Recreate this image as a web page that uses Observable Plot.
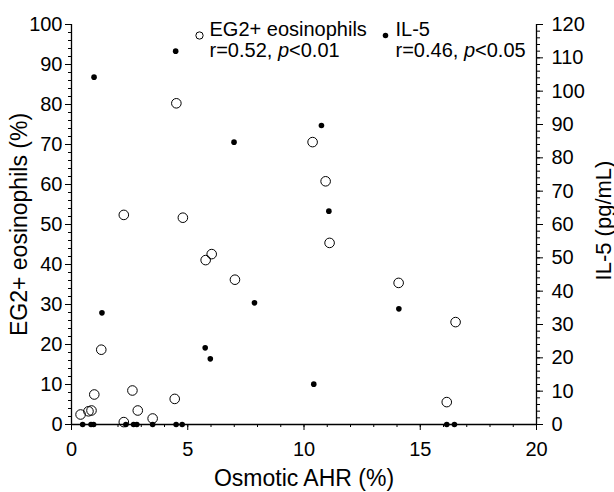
<!DOCTYPE html>
<html>
<head>
<meta charset="utf-8">
<script src="https://cdn.jsdelivr.net/npm/d3@7"></script>
<script src="https://cdn.jsdelivr.net/npm/@observablehq/plot@0.6"></script>
<style>
  html, body { margin: 0; padding: 0; background: #fff; }
</style>
</head>
<body>
<div id="chart"></div>
<script>
// EG2+ eosinophils (%) vs Osmotic AHR (%)
const egX = [0.39, 0.73, 0.86, 0.98, 1.28, 2.25, 2.25, 2.62, 2.85, 3.49, 4.44, 4.51, 4.79, 5.77, 6.03, 7.03, 10.37, 10.93, 11.1, 14.07, 16.14, 16.52];
const egY = [2.5, 3.3, 3.5, 7.5, 18.7, 52.4, 0.6, 8.5, 3.5, 1.5, 6.4, 80.3, 51.7, 41.1, 42.6, 36.2, 70.6, 60.8, 45.4, 35.4, 5.6, 25.6];
// IL-5 (pg/mL) vs Osmotic AHR (%)
const ilX = [0.48, 0.84, 0.95, 0.97, 1.31, 2.34, 2.67, 2.81, 3.49, 4.48, 4.5, 4.76, 5.75, 5.97, 6.99, 7.87, 10.42, 10.75, 11.07, 14.08, 16.14, 16.47];
const ilY = [0, 0, 0, 104.2, 33.5, 0, 0, 0, 0, 112, 0, 0, 23.0, 19.7, 84.7, 36.5, 12.1, 89.7, 64.0, 34.7, 0, 0];

const xTicks = [0, 5, 10, 15, 20];
const xMinor = d3.range(0, 21, 1);
const leftTicks = d3.range(0, 101, 10);
const leftMinor = d3.range(0, 101, 2);
const rightTicks = d3.range(0, 121, 10);
const rightMinor = d3.range(0, 121, 2);

const leftMax = 100, rightMax = 120;
const k = leftMax / rightMax;

const eg = egX.map((x, i) => ({x, y: egY[i]}));
const il = ilX.map((x, i) => ({x, y: ilY[i]}));

const legendItems = [
  {name: "EG2+ eosinophils", stat: "r=0.52, p<0.01", filled: false},
  {name: "IL-5", stat: "r=0.46, p<0.05", filled: true}
];

const font = "Liberation Sans, Arial, Helvetica, sans-serif";
const noLabel = () => "";

const chart = Plot.plot({
  width: 614,
  height: 492,
  marginLeft: 71,
  marginRight: 78,
  marginTop: 24,
  marginBottom: 68,
  style: {fontFamily: font, fontSize: "20px", color: "#000", background: "#fff", overflow: "visible"},
  x: {domain: [0, 20]},
  y: {domain: [0, leftMax]},
  marks: [
    // x axis
    Plot.tickX(xMinor, {x: d => d, frameAnchor: "bottom", stroke: "#000",
      render: (index, scales, values, dims, context, next) => {
        const g = next(index, scales, values, dims, context);
        const y0 = dims.height - dims.marginBottom;
        d3.select(g).selectAll("line").attr("y1", y0).attr("y2", y0 + 3);
        return g;
      }}),
    Plot.axisX({ticks: xTicks, tickSize: 6, tickPadding: 11, label: null, fontSize: 20}),
    // left y axis
    Plot.axisY({ticks: leftMinor, tickSize: 3, tickFormat: noLabel, label: null}),
    Plot.axisY({ticks: leftTicks, tickSize: 6, tickPadding: 3, label: null, fontSize: 20}),
    // right y axis (IL-5)
    Plot.axisY({anchor: "right", ticks: rightMinor.map(v => v * k), tickSize: 3, tickFormat: noLabel, label: null}),
    Plot.axisY({anchor: "right", ticks: rightTicks.map(v => v * k), tickSize: 6, tickPadding: 9,
      tickFormat: d => String(Math.round(d / k)), label: null, fontSize: 20}),
    Plot.ruleX([0, 20], {stroke: "#000", strokeWidth: 1.3}),
    Plot.ruleY([0], {stroke: "#000", strokeWidth: 1.3}),
    // axis titles
    Plot.text(["Osmotic AHR (%)"], {frameAnchor: "bottom", dy: 54, lineAnchor: "middle", textAnchor: "middle", fontSize: 23, text: d => d}),
    Plot.text(["EG2+ eosinophils (%)"], {frameAnchor: "left", dx: -52, rotate: -90, textAnchor: "middle", lineAnchor: "middle", fontSize: 23, text: d => d}),
    Plot.text(["IL-5 (pg/mL)"], {frameAnchor: "right", dx: 67, dy: -4, rotate: -90, textAnchor: "middle", lineAnchor: "middle", fontSize: 22, text: d => d}),
    // data
    Plot.dot(eg, {x: "x", y: "y", r: 4.8, stroke: "#000", fill: "none", strokeWidth: 1}),
    Plot.dot(il, {x: "x", y: d => d.y * k, r: 2.8, fill: "#000", stroke: "none"}),
    // legend
    Plot.dot(legendItems, {frameAnchor: "top-left", r: d => d.filled ? 2.4 : 4.2,
      fill: d => d.filled ? "#000" : "none", stroke: d => d.filled ? "none" : "#000", strokeWidth: 1,
      render: (index, scales, values, dims, context, next) => {
        const g = next(index, scales, values, dims, context);
        d3.select(g).selectAll("circle").attr("transform", (_, j) => `translate(${dims.marginLeft + [128, 314][j]},${dims.marginTop + 11})`).attr("cx", 0).attr("cy", 0);
        return g;
      }}),
    Plot.text(legendItems, {frameAnchor: "top-left", text: "name", textAnchor: "start", lineAnchor: "middle", fontSize: 20,
      render: (index, scales, values, dims, context, next) => {
        const g = next(index, scales, values, dims, context);
        d3.select(g).selectAll("text").attr("transform", (_, j) => `translate(${dims.marginLeft + [138, 324][j]},${dims.marginTop + 11})`).attr("x", null).attr("y", null);
        return g;
      }}),
    Plot.text(legendItems, {frameAnchor: "top-left", text: "stat", textAnchor: "start", lineAnchor: "middle", fontSize: 20,
      render: (index, scales, values, dims, context, next) => {
        const g = next(index, scales, values, dims, context);
        d3.select(g).selectAll("text").attr("transform", (_, j) => `translate(${dims.marginLeft + [138, 324][j]},${dims.marginTop + 32})`).attr("x", null).attr("y", null)
          .each(function() {
            const t = this.textContent;
            const m = t.match(/^(.*)p(<.*)$/);
            if (m) {
              const sel = d3.select(this);
              sel.text(null);
              sel.append("tspan").text(m[1]);
              sel.append("tspan").attr("font-style", "italic").text("p");
              sel.append("tspan").text(m[2]);
            }
          });
        return g;
      }})
  ]
});

document.getElementById("chart").appendChild(chart);
</script>
</body>
</html>
